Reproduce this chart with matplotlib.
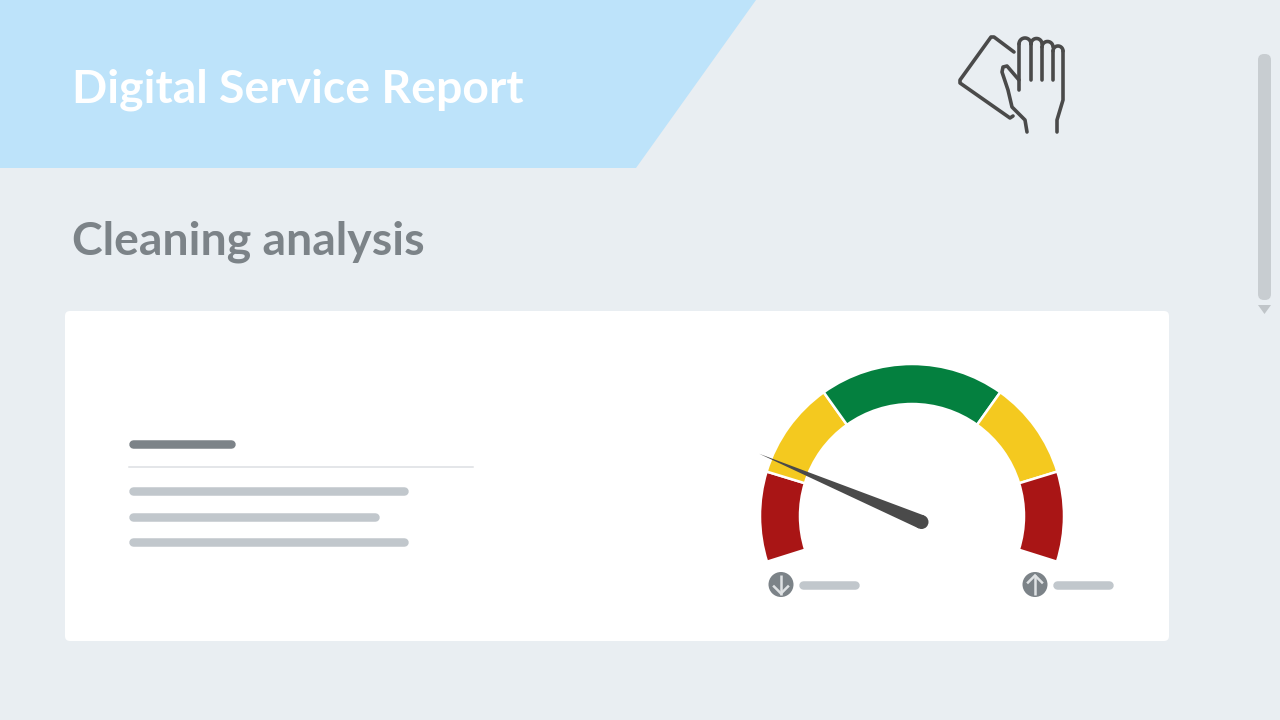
import matplotlib
matplotlib.use('Agg')
import matplotlib.pyplot as plt
import numpy as np
from matplotlib.patches import Circle, FancyBboxPatch, Polygon, Wedge

TITLE = "Digital Service Report"
SUBTITLE = "Cleaning analysis"

# gauge: degrees per segment, running clockwise from the lower left
gauge_start = 197.5
gauge_spans = [34.5, 37.5, 71, 37.5, 34.5]
gauge_colors = ['#a91515', '#f4c91f', '#04803f', '#f4c91f', '#a91515']
needle_angle = 157.2

BG = '#e9eef2'
GREY = '#7c8388'
LIGHT = '#c1c7cc'
ICON = '#4a4a4a'


def px(w):
    # stroke widths in image pixels
    return w * 72 / 100


def bar(ax, x0, x1, y, color=LIGHT, w=8.5):
    ax.plot([x0, x1], [y, y], color=color, lw=px(w), solid_capstyle='round')


def arrow_badge(ax, cx, cy, up):
    s = -1 if up else 1
    ax.add_patch(Circle((cx, cy), 12.5, fc=GREY, ec='none'))
    ax.plot([cx, cx], [cy - 10 * s, cy + 10 * s], color='#dfe2e4', lw=px(2.5), solid_capstyle='butt')
    ax.plot([cx - 7, cx, cx + 7], [cy + 2 * s, cy + 9 * s, cy + 2 * s],
            color='#dfe2e4', lw=px(2.5), solid_joinstyle='miter')


def draw_icon(ax):
    style = dict(color=ICON, lw=px(3.6), solid_capstyle='round', solid_joinstyle='round')
    strokes = [
        # cloth
        [(1014, 52), (994, 37), (991, 37), (960, 80), (960, 83), (1010, 118), (1013, 116)],
        # palm edge
        [(1057, 132), (1057, 120), (1063, 100), (1063, 51)],
        # thumb
        [(1019, 80), (1007, 66), (1003, 67), (1002, 72), (1008, 90), (1012, 107),
         (1025, 120), (1027, 132)],
        # gaps between fingers
        [(1019, 90), (1019, 44)],
        [(1031, 80), (1031, 44)],
        [(1042, 80), (1042, 47)],
        [(1053, 80), (1053, 51)],
    ]
    for s in strokes:
        xs, ys = zip(*s)
        ax.plot(xs, ys, **style)
    # finger tips
    t = np.linspace(np.pi, 2 * np.pi, 20)
    for x0, x1, yc in [(1019, 1031, 44), (1031, 1042, 44), (1042, 1053, 47), (1053, 1063, 51)]:
        r = (x1 - x0) / 2
        ax.plot((x0 + x1) / 2 + r * np.cos(t), yc + r * np.sin(t), **style)


def main():
    fig = plt.figure(figsize=(12.8, 7.2), dpi=100, facecolor=BG)
    ax = fig.add_axes([0, 0, 1, 1])
    ax.set_xlim(0, 1280)
    ax.set_ylim(720, 0)
    ax.axis('off')

    # header
    ax.add_patch(Polygon([(0, 0), (756, 0), (636, 168), (0, 168)], fc='#bde3fa', ec='none'))
    ax.text(72, 90, TITLE, color='white', fontsize=33.4, fontweight='bold',
            family='Lato', va='center', ha='left')
    ax.text(72, 242, SUBTITLE, color=GREY, fontsize=33.4, fontweight='bold',
            family='Lato', va='center', ha='left')
    draw_icon(ax)

    # scrollbar
    ax.add_patch(FancyBboxPatch((1258, 54), 13, 246, boxstyle='round,pad=0,rounding_size=6',
                                fc='#c8cdd1', ec='none'))
    ax.add_patch(Polygon([(1258, 305), (1271, 305), (1264.5, 314)], fc='#c0c5c9', ec='none'))

    # card
    ax.add_patch(FancyBboxPatch((65, 311), 1104, 330, boxstyle='round,pad=0,rounding_size=5',
                                fc='white', ec='none'))

    # placeholder text
    bar(ax, 133, 231, 444, GREY)
    ax.plot([129, 473], [467, 467], color='#dcdfe2', lw=px(1.5))
    bar(ax, 133, 404, 490.5)
    bar(ax, 133, 375, 516.5)
    bar(ax, 133, 404, 542)

    # gauge. y axis is flipped, so wedge angles are mirrored
    cx, cy = 912, 516
    edges = gauge_start - np.concatenate([[0], np.cumsum(gauge_spans)])
    for hi, lo, col in zip(edges[:-1], edges[1:], gauge_colors):
        ax.add_patch(Wedge((cx, cy), 152, -hi, -lo, width=40, fc=col, ec='white', lw=px(2.5)))

    # needle
    a = np.deg2rad(needle_angle)
    hub = np.array([921.5, 522])
    tip = hub + 176 * np.array([np.cos(a), -np.sin(a)])
    n = np.array([np.sin(a), np.cos(a)])
    ax.add_patch(Polygon([tip, hub + 7 * n, hub - 7 * n], fc=ICON, ec='none'))
    ax.add_patch(Circle(hub, 7, fc=ICON, ec='none'))

    # gauge legend
    arrow_badge(ax, 781, 584.5, False)
    bar(ax, 803, 855, 585)
    arrow_badge(ax, 1035, 584.5, True)
    bar(ax, 1057, 1109, 585)

    fig.savefig('out.png', dpi=100, facecolor=BG)


if __name__ == "__main__":
    main()
